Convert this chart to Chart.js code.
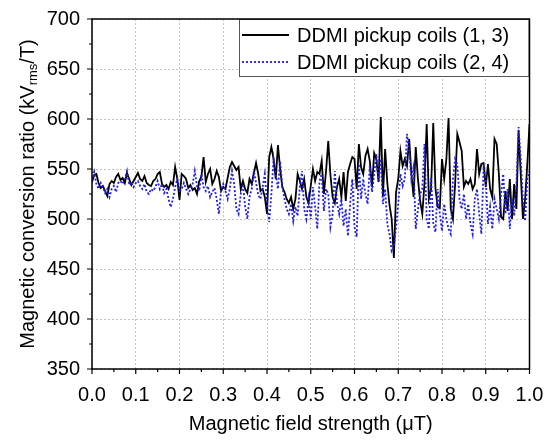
<!DOCTYPE html>
<html>
<head>
<meta charset="utf-8">
<script src="https://cdn.jsdelivr.net/npm/chart.js@4.4.0/dist/chart.umd.min.js"></script>
<style>
    html, body { margin: 0; padding: 0; background: #ffffff; }
    #wrap { width: 549px; height: 442px; }
</style>
</head>
<body>
<div id="wrap"><canvas id="chartRatio"></canvas></div>
<script>
// field sweep sampled every 0.005 uT, 0.0 .. 1.0
const fieldStep = 0.005;

const coils13 = [
    537, 544, 545, 536, 531, 533, 528, 523, 535, 538,
    536, 542, 545, 539, 541, 536, 546, 540, 534, 538,
    542, 546, 540, 538, 543, 536, 534, 533, 538, 540,
    545, 547, 535, 532, 534, 530, 537, 534, 552, 540,
    519, 545, 543, 540, 531, 534, 529, 531, 525, 538,
    542, 562, 537, 545, 550, 535, 540, 548, 542, 528,
    532, 530, 541, 552, 557, 553, 549, 552, 530, 538,
    530, 526, 540, 535, 546, 556, 545, 528, 530, 522,
    505, 562, 572, 560, 540, 574, 550, 532, 527, 520,
    516, 522, 510, 520, 545, 538, 530, 540, 522, 516,
    533, 550, 538, 547, 545, 558, 525, 548, 578, 544,
    522, 516, 532, 540, 522, 547, 518, 547, 555, 562,
    560, 530, 575, 552, 545, 563, 570, 558, 532, 566,
    560, 537, 602, 523, 570, 536, 514, 500, 461, 527,
    540, 568, 553, 560, 553, 580, 545, 522, 572, 540,
    518, 505, 536, 595, 520, 530, 596, 531, 512, 511,
    560, 540, 560, 601, 510, 500, 535, 585, 577, 568,
    532, 538, 535, 540, 530, 535, 570, 545, 555, 556,
    532, 555, 530, 522, 580, 575, 545, 502, 500, 528,
    508, 540, 500, 535, 510, 588, 545, 500, 520, 555,
    595
];

const coils24 = [
    538, 547, 535, 530, 536, 532, 526, 530, 522, 530,
    533, 527, 536, 538, 535, 540, 548, 534, 537, 532,
    536, 538, 533, 530, 535, 527, 525, 530, 528, 532,
    538, 530, 535, 526, 530, 520, 512, 520, 532, 540,
    528, 530, 536, 530, 525, 530, 535, 548, 533, 528,
    545, 532, 528, 533, 522, 527, 531, 520, 505, 528,
    535, 528, 520, 530, 548, 535, 510, 505, 525, 535,
    512, 500, 522, 530, 548, 536, 524, 520, 532, 545,
    515, 497, 525, 560, 545, 530, 558, 532, 520, 510,
    505, 515, 498, 512, 503, 532, 548, 510, 500, 520,
    500, 532, 512, 490, 538, 545, 508, 530, 525, 492,
    505, 548, 516, 505, 520, 493, 510, 483, 515, 540,
    492, 482, 555, 520, 540, 525, 515, 553, 527, 545,
    565, 538, 560, 515, 530, 495, 485, 468, 472, 492,
    515, 545, 533, 540, 585, 570, 540, 552, 490, 510,
    525, 530, 575, 500, 490, 542, 496, 487, 530, 505,
    488, 515, 500, 490, 485, 540, 560, 555, 520, 510,
    525, 500, 515, 495, 485, 520, 530, 505, 485, 550,
    540, 495, 512, 490, 520, 510, 500, 525, 545, 505,
    530, 490, 520, 503, 535, 592, 560, 520, 498, 540,
    548
];

const seriesLabels = ['DDMI pickup coils (1, 3)', 'DDMI pickup coils (2, 4)'];
const xTicks = [0, 0.1, 0.2, 0.3, 0.4, 0.5, 0.6, 0.7, 0.8, 0.9, 1.0];
const yTicks = [350, 400, 450, 500, 550, 600, 650, 700];
const xTitle = 'Magnetic field strength (\u03bcT)';

const FONT = '"Liberation Sans", Arial, sans-serif';

function toPoints(values) {
    return values.map((v, i) => ({ x: +(i * fieldStep).toFixed(3), y: v }));
}

const frameAndText = {
    id: 'frameAndText',
    afterDraw(chart) {
        const ctx = chart.ctx;
        const a = chart.chartArea;
        const xs = chart.scales.x, ys = chart.scales.y;
        ctx.save();

        // axis ticks (outward), major + minor
        ctx.strokeStyle = '#000';
        ctx.lineWidth = 1.2;
        ctx.beginPath();
        for (let i = 0; i < xTicks.length; i++) {
            const px = xs.getPixelForValue(xTicks[i]);
            ctx.moveTo(px, a.bottom); ctx.lineTo(px, a.bottom + 5);
            if (i < xTicks.length - 1) {
                const pm = xs.getPixelForValue((xTicks[i] + xTicks[i + 1]) / 2);
                ctx.moveTo(pm, a.bottom); ctx.lineTo(pm, a.bottom + 3);
            }
        }
        for (let i = 0; i < yTicks.length; i++) {
            const py = ys.getPixelForValue(yTicks[i]);
            ctx.moveTo(a.left, py); ctx.lineTo(a.left - 5, py);
            if (i < yTicks.length - 1) {
                const pm = ys.getPixelForValue((yTicks[i] + yTicks[i + 1]) / 2);
                ctx.moveTo(a.left, pm); ctx.lineTo(a.left - 3, pm);
            }
        }
        ctx.stroke();

        // legend box inside plot, top right
        const lx = 239, ly = a.top, lw = a.right - lx, lh = 58;
        ctx.fillStyle = '#fff';
        ctx.fillRect(lx, ly, lw, lh);
        ctx.strokeStyle = '#555';
        ctx.lineWidth = 1;
        ctx.strokeRect(lx + 0.5, ly + 0.5, lw - 1, lh - 1);
        ctx.font = '20px ' + FONT;
        ctx.textBaseline = 'middle';
        ctx.textAlign = 'left';
        chart.data.datasets.forEach((ds, i) => {
            const ry = ly + 16 + i * 27;
            ctx.beginPath();
            ctx.strokeStyle = ds.borderColor;
            ctx.lineWidth = ds.borderWidth;
            ctx.setLineDash(ds.borderDash || []);
            ctx.moveTo(242, ry); ctx.lineTo(289, ry);
            ctx.stroke();
            ctx.setLineDash([]);
            ctx.fillStyle = '#000';
            ctx.fillText(ds.label, 297, ry + 1);
        });

        // frame
        ctx.strokeStyle = '#000';
        ctx.lineWidth = 1.5;
        ctx.strokeRect(a.left, a.top, a.right - a.left, a.bottom - a.top);

        // x title
        ctx.fillStyle = '#000';
        ctx.font = '20px ' + FONT;
        ctx.textAlign = 'center';
        ctx.textBaseline = 'middle';
        ctx.fillText(xTitle, (a.left + a.right) / 2, 424);

        // y title with subscript
        const parts = [
            ['Magnetic conversion ratio (kV', '20px ' + FONT, 0],
            ['rms', '13px ' + FONT, 5],
            ['/T)', '20px ' + FONT, 0]
        ];
        let total = 0;
        parts.forEach(p => { ctx.font = p[1]; total += ctx.measureText(p[0]).width; });
        ctx.translate(28, (a.top + a.bottom) / 2);
        ctx.rotate(-Math.PI / 2);
        ctx.textAlign = 'left';
        let cx = -total / 2;
        parts.forEach(p => {
            ctx.font = p[1];
            ctx.fillText(p[0], cx, p[2]);
            cx += ctx.measureText(p[0]).width;
        });
        ctx.restore();
    }
};

new Chart(document.getElementById('chartRatio'), {
    type: 'line',
    data: {
        datasets: [{
            label: seriesLabels[0],
            data: toPoints(coils13),
            borderColor: '#000000',
            borderWidth: 1.8,
            pointRadius: 0,
            tension: 0,
            order: 2
        }, {
            label: seriesLabels[1],
            data: toPoints(coils24),
            borderColor: '#1f1fe0',
            borderWidth: 1.8,
            borderDash: [2, 2],
            pointRadius: 0,
            tension: 0,
            order: 1
        }]
    },
    options: {
        responsive: true,
        maintainAspectRatio: false,
        animation: false,
        layout: { padding: { top: 19, right: 19.5, left: 0, bottom: 0 } },
        plugins: {
            legend: { display: false },
            tooltip: { enabled: false }
        },
        scales: {
            x: {
                type: 'linear',
                min: 0,
                max: 1,
                afterBuildTicks: s => { s.ticks = xTicks.map(v => ({ value: v })); },
                afterFit: s => { s.height = 73; s.paddingLeft = 0; s.paddingRight = 0; },
                grid: { color: '#c4c4c4', drawTicks: false },
                border: { display: false, dash: [2, 2] },
                ticks: {
                    color: '#000',
                    font: { family: FONT, size: 20 },
                    padding: 14,
                    maxRotation: 0,
                    callback: v => v.toFixed(1)
                }
            },
            y: {
                min: 350,
                max: 700,
                afterBuildTicks: s => { s.ticks = yTicks.map(v => ({ value: v })); },
                afterFit: s => { s.width = 92; s.paddingTop = 0; s.paddingBottom = 0; },
                grid: { color: '#c4c4c4', drawTicks: false },
                border: { display: false, dash: [2, 2] },
                ticks: {
                    color: '#000',
                    font: { family: FONT, size: 20 },
                    padding: 12
                }
            }
        }
    },
    plugins: [frameAndText]
});
</script>
</body>
</html>
